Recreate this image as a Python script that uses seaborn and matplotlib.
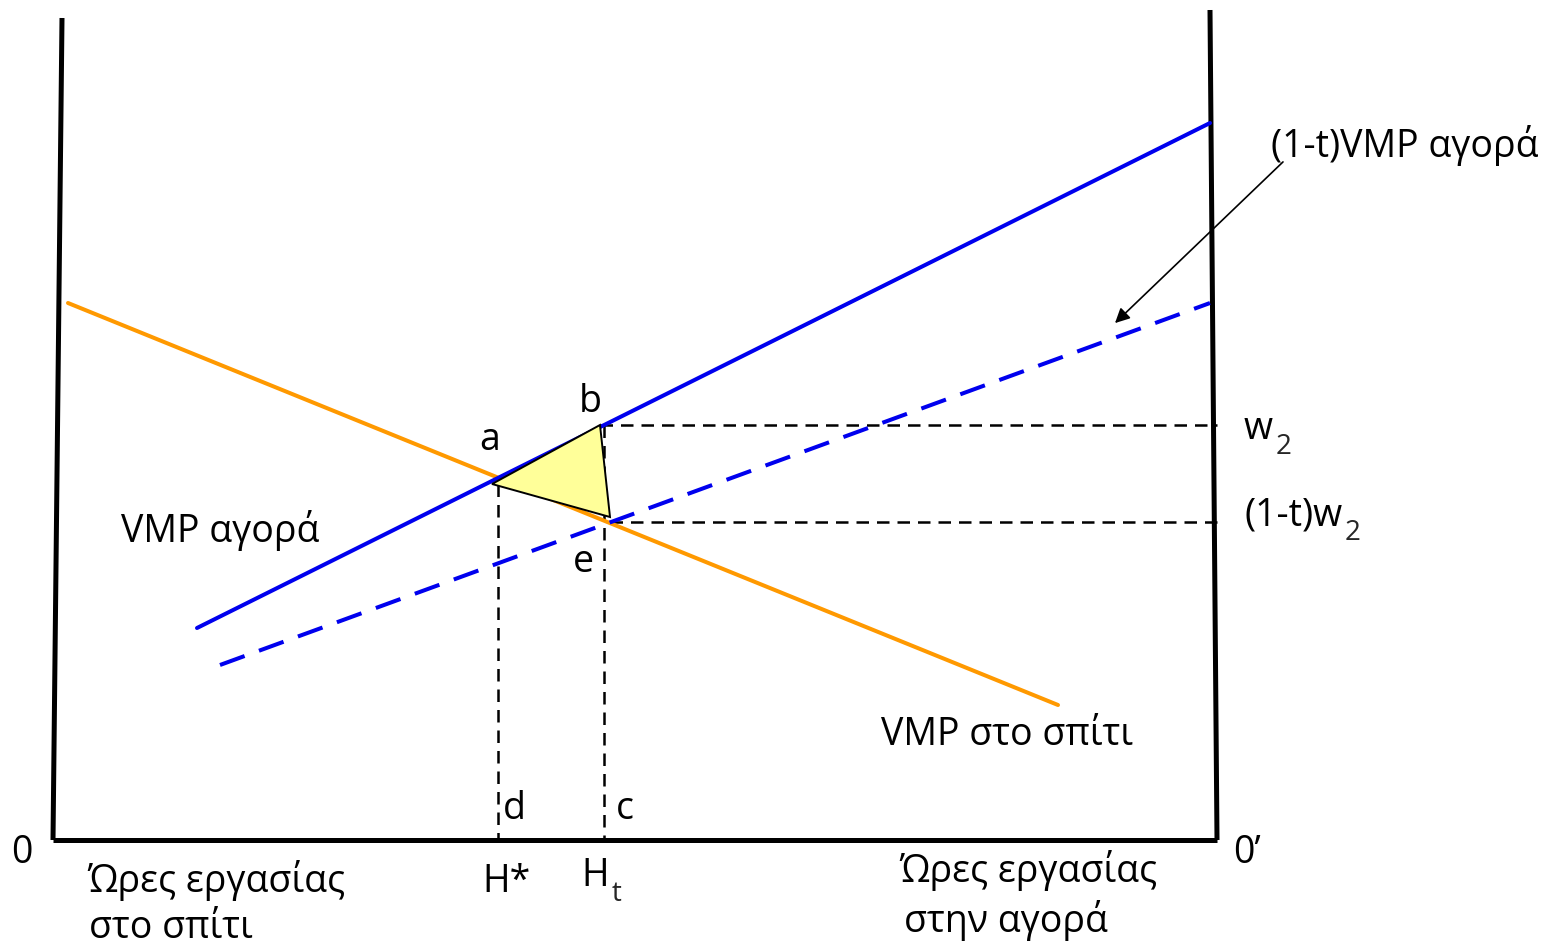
import numpy as np
import pandas as pd
import matplotlib
matplotlib.use("Agg")
import matplotlib.pyplot as plt
import seaborn as sns

# --- diagram data (picture coordinates, y grows downward) ---
left_axis_x = [62, 53]
left_axis_y = [18, 840]
right_axis_x = [1210, 1217]
right_axis_y = [10, 840]
base_x = [53, 1217]
base_y = [840, 840]

vmp_market_x = [197, 1210]
vmp_market_y = [628, 123]
vmp_taxed_x = [220, 1210]
vmp_taxed_y = [665, 303]
vmp_home_x = [68, 1058]
vmp_home_y = [303, 705]

triangle_x = [492, 600, 610]
triangle_y = [484, 425, 517]

w2_y = 425
w2t_y = 522
hstar_x = 498
ht_x = 604

sns.set_theme(style="white")
plt.rcParams['font.family'] = ['Open Sans', 'DejaVu Sans']

fig = plt.figure(figsize=(15.52, 9.47), dpi=100)
ax = fig.add_axes([0, 0, 1, 1])
ax.set_xlim(0, 1552)
ax.set_ylim(947, 0)
ax.axis('off')

# axes of the box
for xs, ys in [(left_axis_x, left_axis_y), (right_axis_x, right_axis_y), (base_x, base_y)]:
    sns.lineplot(x=xs, y=ys, ax=ax, color='black', lw=3.6, sort=False,
                 estimator=None, solid_capstyle='butt')

# dashed guide lines
guide = dict(color='black', lw=1.8, dashes=(5, 3.2))
ax.plot([triangle_x[1], right_axis_x[1]], [w2_y, w2_y], **guide)
ax.plot([triangle_x[2], right_axis_x[1]], [w2t_y, w2t_y], **guide)
ax.plot([hstar_x, hstar_x], [triangle_y[0], base_y[0]], **guide)
ax.plot([ht_x, ht_x], [w2_y, base_y[0]], **guide)

# curves
sns.lineplot(x=vmp_home_x, y=vmp_home_y, ax=ax, color='#FF9900', lw=2.9, sort=False)
sns.lineplot(x=vmp_market_x, y=vmp_market_y, ax=ax, color='#0000EE', lw=2.9, sort=False)
sns.lineplot(x=vmp_taxed_x, y=vmp_taxed_y, ax=ax, color='#0000EE', lw=2.9,
             sort=False).lines[-1].set_dashes([6.5, 3.8])

# deadweight triangle
ax.fill(triangle_x, triangle_y, facecolor='#FFFF99', edgecolor='black', lw=1.4, zorder=5)

# arrow to taxed curve
ax.annotate('', xy=(1113, 325), xytext=(1285, 160),
            arrowprops=dict(arrowstyle='-|>', color='black', lw=1.2, mutation_scale=22))

fs = 27
sub = 20
txt = dict(fontsize=fs, color='black')


def with_sub(x, y, main, s):
    t = ax.text(x, y, main, ha='left', va='center', **txt)
    ax.annotate(s, xy=(1, 0), xycoords=t, xytext=(2, 1), textcoords='offset points',
                ha='left', va='center', fontsize=sub)


ax.text(490, 440, 'a', ha='center', va='center', **txt)
ax.text(590, 402, 'b', ha='center', va='center', **txt)
ax.text(583, 562, 'e', ha='center', va='center', **txt)
ax.text(514, 809, 'd', ha='center', va='center', **txt)
ax.text(625, 809, 'c', ha='center', va='center', **txt)
ax.text(22, 853, '0', ha='center', va='center', **txt)
ax.text(1247, 853, '0\u2019', ha='center', va='center', **txt)
ax.text(507, 882, 'H*', ha='center', va='center', **txt)
with_sub(581, 876, 'H', 't')
with_sub(1244, 429, 'w', '2')
with_sub(1244, 515, '(1-t)w', '2')
ax.text(220, 530, 'VMP αγορά', ha='center', va='center', **txt)
ax.text(1007, 735, 'VMP στο σπίτι', ha='center', va='center', **txt)
ax.text(1405, 145, '(1-t)VMP αγορά', ha='center', va='center', **txt)
ax.text(87, 880, 'Ώρες εργασίας', ha='left', va='center', **txt)
ax.text(89, 928, 'στο σπίτι', ha='left', va='center', **txt)
ax.text(899, 870, 'Ώρες εργασίας', ha='left', va='center', **txt)
ax.text(904, 920, 'στην αγορά', ha='left', va='center', **txt)

fig.savefig('out.png', dpi=100, facecolor='white')
